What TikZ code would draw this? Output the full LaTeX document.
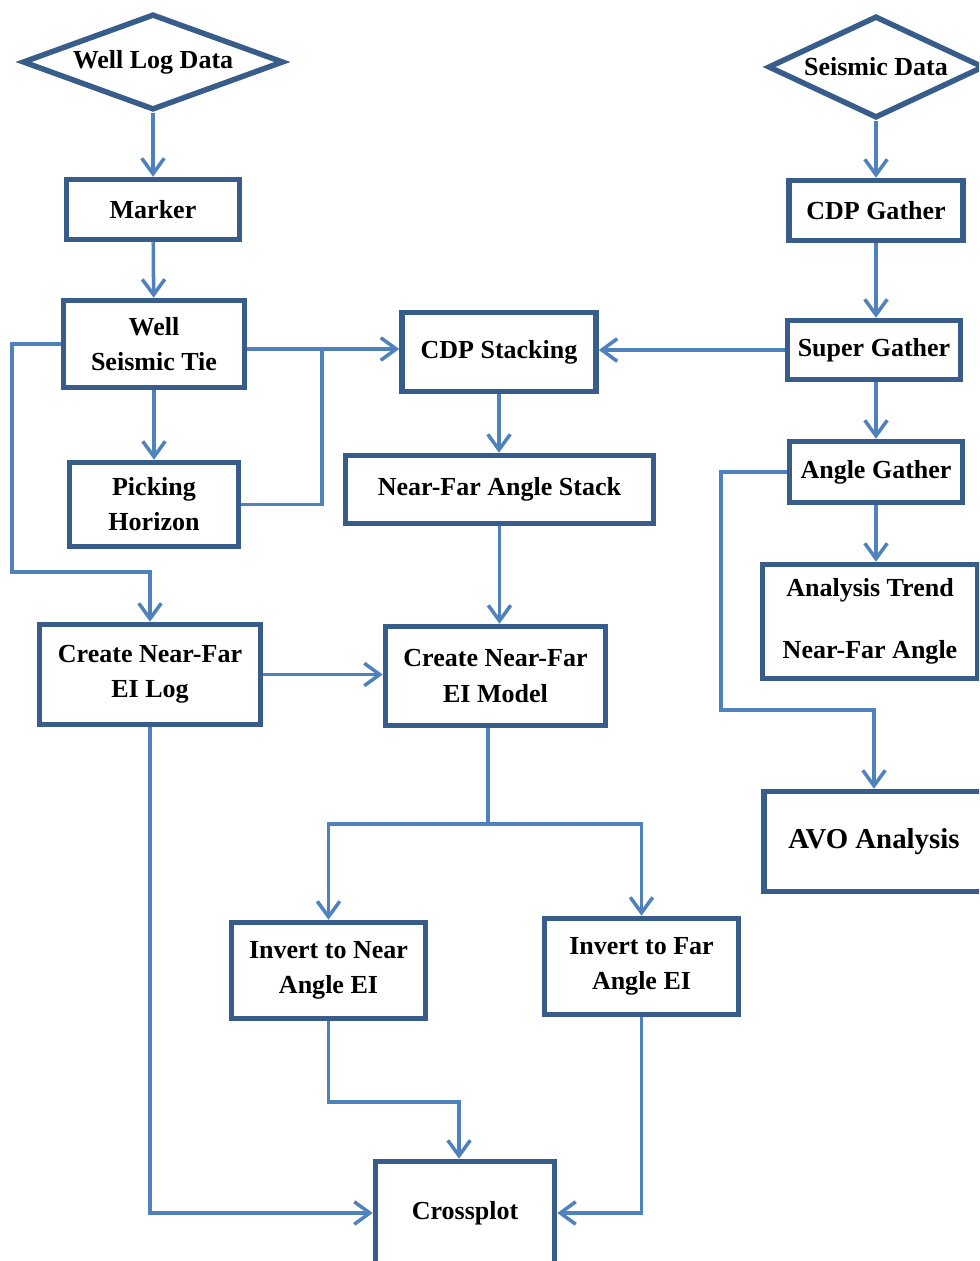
\documentclass[tikz,border=0pt]{standalone}
\usepackage{fontspec}
\setmainfont{Liberation Serif}
\usetikzlibrary{shapes.geometric,arrows.meta}
\definecolor{boxblue}{RGB}{56,93,138}
\definecolor{lineblue}{RGB}{79,129,189}

\begin{document}
\begin{tikzpicture}[x=0.025cm,y=-0.025cm,
  box/.style={draw=boxblue, line width=3.9pt, align=center, inner sep=2pt,
    font=\bfseries\fontsize{18.5}{25}\selectfont},
  data/.style={box, diamond, aspect=#1, inner sep=0pt},
  link/.style={draw=lineblue, line width=2.5pt},
  flow/.style={link, -{Straight Barb[length=11pt,width=16pt]}}]

  \clip (0,0) rectangle (979,1261);

  \node[data=2.7, minimum width=6.525cm, minimum height=2.4cm] (wld) at (153,62) {Well Log Data};
  \node[data=2.1, minimum width=5.4cm, minimum height=2.55cm] (sd) at (876,67) {Seismic Data};

  \node[box, minimum width=4.325cm, minimum height=1.5cm] (marker) at (153,209.5) {Marker};
  \node[box, minimum width=4.35cm, minimum height=1.5cm] (cdpg) at (876,210.5) {CDP Gather};
  \node[box, minimum width=4.525cm, minimum height=2.175cm] (wst) at (154,344) {Well\\Seismic Tie};
  \node[box, minimum width=4.85cm, minimum height=1.975cm] (cdps) at (499,352) {CDP Stacking};
  \node[box, minimum width=4.325cm, minimum height=1.475cm] (sg) at (874,350) {Super Gather};
  \node[box, minimum width=4.225cm, minimum height=2.1cm] (ph) at (154,504.5) {Picking\\Horizon};
  \node[box, minimum width=7.7cm, minimum height=1.7cm] (nfas) at (499.5,489.5) {Near-Far Angle Stack};
  \node[box, minimum width=4.325cm, minimum height=1.525cm] (ag) at (876,472) {Angle Gather};
  \node[box, minimum width=5.375cm, minimum height=2.85cm] (at) at (870,621.5) {Analysis Trend\\[19pt]Near-Far Angle};
  \node[box, minimum width=5.525cm, minimum height=2.5cm] (eil) at (150,674.5) {Create Near-Far\\EI Log};
  \node[box, minimum width=5.5cm, minimum height=2.475cm] (eim) at (495.5,676) {Create Near-Far\\EI Model};
  \node[box, minimum width=5.5cm, minimum height=2.5cm,
    font=\bfseries\fontsize{20.5}{25}\selectfont] (avo) at (874,841.5) {AVO Analysis};
  \node[box, minimum width=4.85cm, minimum height=2.4cm] (inn) at (328.5,970.5) {Invert to Near\\Angle EI};
  \node[box, minimum width=4.85cm, minimum height=2.4cm] (inf) at (641.5,966.5) {Invert to Far\\Angle EI};
  \node[box, minimum width=4.475cm, minimum height=2.575cm] (cp) at (465,1213) {Crossplot};

  % well side
  \draw[flow] (wld) -- (marker);
  \draw[flow] (marker) -- (wst);
  \draw[flow] (wst) -- (ph);
  \coordinate (join) at (322,349);
  \draw[link] (wst.east |- join) -- (join);
  \draw[flow] (ph.east) -| (join) -- (join -| cdps.west);
  \coordinate (wbend) at (12,572);
  \draw[flow] (wst.west) -| (wbend) -| (eil.north);

  % seismic side
  \draw[flow] (sd) -- (cdpg);
  \draw[flow] (cdpg) -- (cdpg |- sg.north);
  \draw[flow] (sg) -- (sg -| cdps.east);
  \draw[flow] (ag |- sg.south) -- (ag);
  \draw[flow] (ag) -- (ag |- at.north);
  \coordinate (abend) at (721,710);
  \draw[flow] (ag.west) -| (abend) -| (avo.north);

  % middle
  \draw[flow] (cdps) -- (cdps |- nfas.north);
  \draw[flow] (nfas) -- (nfas |- eim.north);
  \draw[flow] (eil) -- (eil -| eim.west);
  \coordinate (split) at (488,824);
  \draw[link] (eim.south -| split) -- (split);
  \draw[flow] (split) -| (inn.north);
  \draw[flow] (split) -| (inf.north);

  % crossplot
  \coordinate (nbend) at (459,1102);
  \draw[flow] (inn) |- (nbend) -- (nbend |- cp.north);
  \draw[flow] (eil) |- (cp);
  \draw[flow] (inf) |- (cp);

\end{tikzpicture}
\end{document}
